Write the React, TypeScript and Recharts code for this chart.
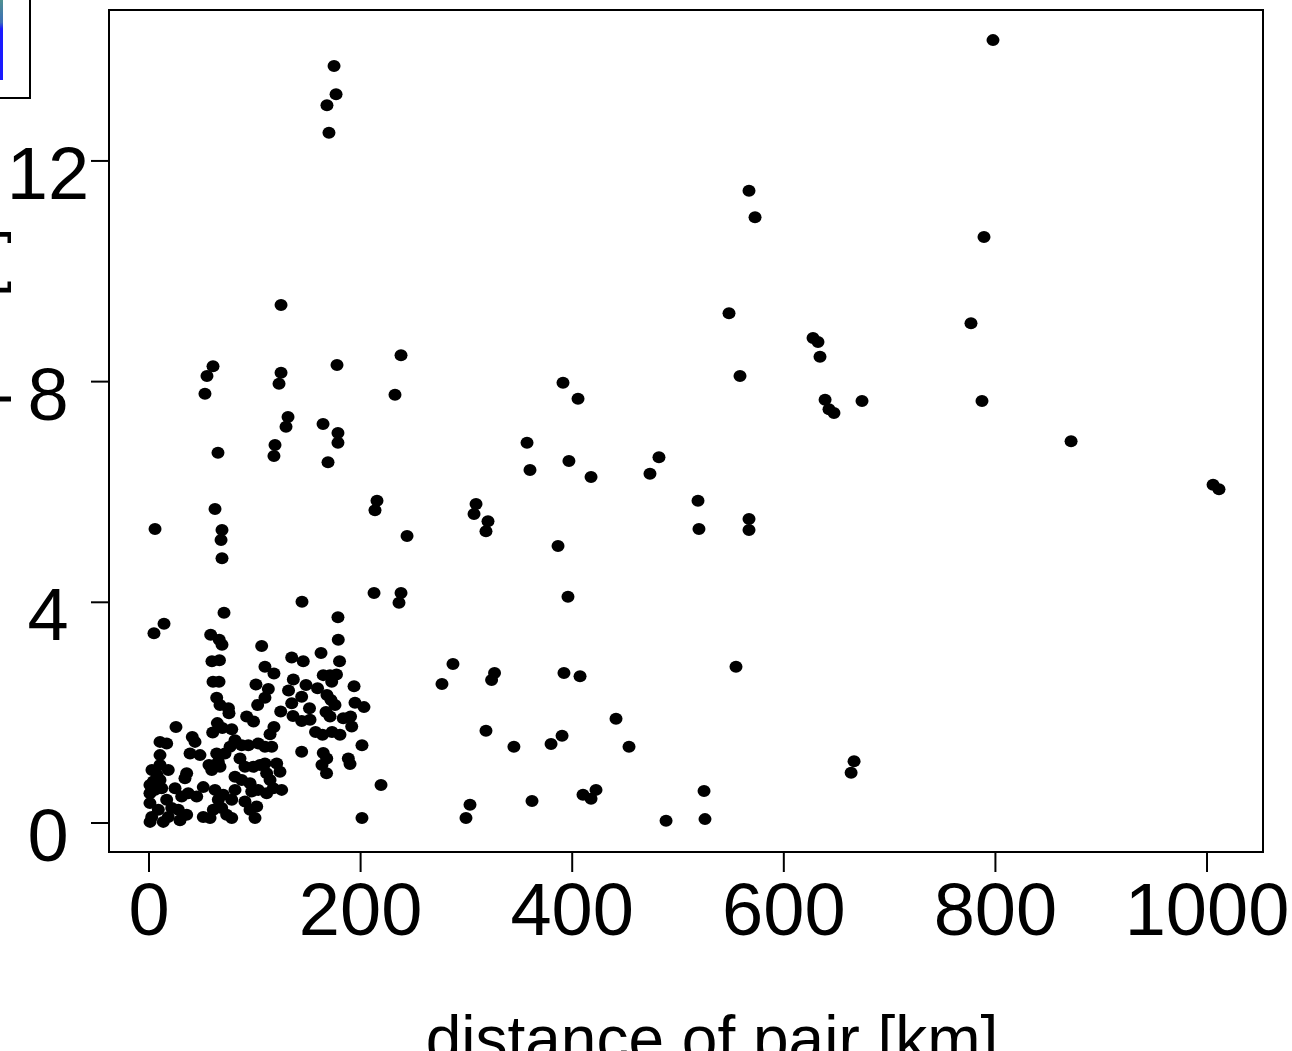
import {
  ReferenceArea,
  Scatter,
  ScatterChart,
  XAxis,
  YAxis,
} from "recharts";

const FONT = '"Liberation Sans", Arial, sans-serif';

// distance [km], value — sparse pairs (upper part and long distances)
const sparsePairs: [number, number][] = [
  [797.7, 14.19], [174.9, 13.72], [176.8, 13.21], [168.2, 13.01], [170.1, 12.51],
  [567.1, 11.46], [572.8, 10.98], [789.2, 10.62], [548.2, 9.24], [776.9, 9.06],
  [124.8, 9.39], [627.6, 8.79], [632.3, 8.72], [634.2, 8.45], [238.2, 8.48],
  [177.7, 8.3], [60.5, 8.28], [54.8, 8.1], [124.8, 8.16], [122.9, 7.96],
  [52.9, 7.78], [558.6, 8.1], [391.3, 7.98], [405.5, 7.69], [232.5, 7.76],
  [639.0, 7.67], [642.7, 7.5], [647.4, 7.43], [673.9, 7.65], [787.3, 7.65],
  [131.4, 7.36], [129.5, 7.18], [164.5, 7.23], [178.6, 7.07], [178.6, 6.89],
  [871.5, 6.92], [119.1, 6.85], [118.1, 6.65], [65.2, 6.71], [169.2, 6.54],
  [357.3, 6.89], [360.1, 6.4], [396.9, 6.56], [482.0, 6.63], [473.5, 6.33],
  [417.8, 6.27], [1005.7, 6.13], [1011.3, 6.05], [309.1, 5.78], [307.2, 5.6],
  [320.4, 5.47], [318.5, 5.29], [215.5, 5.84], [213.6, 5.67], [243.9, 5.2],
  [518.9, 5.84], [519.8, 5.33], [567.1, 5.51], [567.1, 5.31], [5.7, 5.33],
  [62.4, 5.69], [69.0, 5.31], [68.1, 5.13], [69.0, 4.8], [386.6, 5.02],
  [396.0, 4.1], [144.6, 4.01], [212.7, 4.17], [238.2, 4.17], [236.3, 3.99],
  [70.9, 3.81], [178.6, 3.73], [14.2, 3.61], [4.7, 3.44], [554.8, 2.83],
  [287.3, 2.88], [392.2, 2.72], [407.4, 2.66], [326.6, 2.72], [323.8, 2.59],
  [276.9, 2.52], [318.5, 1.67], [441.4, 1.89], [344.9, 1.38], [380.0, 1.43],
  [390.4, 1.58], [453.7, 1.38], [666.4, 1.12], [663.6, 0.91], [219.3, 0.69],
  [410.2, 0.51], [422.5, 0.6], [417.8, 0.44], [524.6, 0.58], [303.4, 0.33],
  [362.0, 0.4], [299.6, 0.09], [488.7, 0.04], [525.5, 0.07], [201.3, 0.09],
];

// pairs 50-200 km, values 1-3.5
const midCluster: [number, number][] = [
  [58.3, 3.41], [66.4, 3.32], [69.0, 3.23], [106.5, 3.21], [162.6, 3.08],
  [178.9, 3.32], [134.9, 3.0], [145.8, 2.93], [180.1, 2.93], [59.5, 2.93],
  [66.6, 2.95], [109.6, 2.83], [118.1, 2.71], [60.5, 2.56], [66.2, 2.56],
  [136.4, 2.6], [164.7, 2.68], [171.1, 2.68], [177.2, 2.69], [172.7, 2.56],
  [148.4, 2.5], [159.3, 2.44], [193.8, 2.48], [101.1, 2.51], [112.8, 2.43],
  [131.9, 2.4], [144.3, 2.29], [168.2, 2.32], [172.0, 2.23], [175.8, 2.14],
  [64.0, 2.27], [67.1, 2.14], [109.6, 2.27], [102.7, 2.14], [134.9, 2.17],
  [151.7, 2.08], [194.7, 2.18], [203.2, 2.1], [75.1, 2.08], [75.6, 1.99],
  [124.5, 2.02], [136.1, 1.94], [144.3, 1.85], [152.2, 1.87], [167.3, 2.01],
  [171.1, 1.93], [183.6, 1.9], [190.5, 1.93], [92.3, 1.93], [98.8, 1.84],
  [64.6, 1.81], [25.5, 1.74], [118.1, 1.74], [114.4, 1.61], [191.6, 1.75],
  [157.4, 1.65], [164.0, 1.6], [173.0, 1.65], [180.5, 1.6], [60.2, 1.64],
  [78.2, 1.7], [144.3, 1.29], [164.7, 1.27], [168.0, 1.17], [163.5, 1.05],
  [167.8, 0.9], [188.4, 1.17], [190.0, 1.07], [201.3, 1.41], [69.3, 1.72],
];

// short-distance pairs, values below 1.6
const nearCluster: [number, number][] = [
  [40.9, 1.56], [43.5, 1.47], [10.4, 1.47], [16.7, 1.44], [38.8, 1.26],
  [48.2, 1.23], [64.0, 1.26], [71.8, 1.26], [65.5, 1.11], [76.6, 1.38],
  [81.3, 1.5], [87.6, 1.41], [93.9, 1.41], [103.3, 1.44], [10.4, 1.23],
  [10.4, 1.05], [86.0, 1.17], [90.7, 1.02], [98.6, 1.02], [104.9, 1.05],
  [18.2, 0.96], [35.6, 0.9], [34.0, 0.81], [56.7, 1.05], [59.3, 0.96],
  [67.1, 1.02], [81.3, 0.84], [87.6, 0.78], [95.5, 0.72], [97.1, 0.57],
  [103.3, 0.6], [4.1, 0.75], [5.7, 0.6], [0.9, 0.54], [10.4, 0.78],
  [12.0, 0.63], [24.6, 0.63], [30.9, 0.48], [37.1, 0.54], [45.1, 0.48],
  [51.3, 0.65], [62.4, 0.6], [70.2, 0.51], [65.5, 0.42], [78.2, 0.42],
  [81.3, 0.6], [90.7, 0.39], [95.5, 0.24], [100.2, 0.09], [0.9, 0.36],
  [8.8, 0.24], [2.6, 0.11], [16.7, 0.42], [21.5, 0.27], [18.2, 0.11],
  [27.7, 0.24], [35.6, 0.15], [29.3, 0.05], [51.3, 0.11], [57.7, 0.09],
  [60.8, 0.24], [68.7, 0.27], [73.4, 0.15], [78.2, 0.09], [13.5, 0.02],
  [1.0, 0.02], [111.2, 0.54], [117.5, 0.63], [125.4, 0.6], [101.8, 0.3],
  [109.6, 1.08], [120.7, 1.08], [123.8, 0.93], [111.2, 0.9], [114.4, 0.78],
  [109.6, 1.38], [116.0, 1.38], [2.8, 0.96], [7.6, 0.87], [0.9, 0.69],
];

const xTicks = [0, 200, 400, 600, 800, 1000];
const yTicks = [0, 4, 8, 12];
const xDomain: [number, number] = [-37.8, 1052.9];
const yDomain: [number, number] = [-0.526, 14.736];

const points = [...sparsePairs, ...midCluster, ...nearCluster].map(([x, y]) => ({ x, y }));

const Dot = (props: any) => {
  const { cx, cy } = props;
  if (cx == null || cy == null) return null;
  return <ellipse cx={cx} cy={cy} rx={6.5} ry={6} fill="#000" />;
};

const XTick = (props: any) => {
  const { x, payload } = props;
  return (
    <text x={x} y={935} textAnchor="middle" fontSize={74} fontFamily={FONT} fill="#000">
      {payload.value}
    </text>
  );
};

const YTick = (props: any) => {
  const { y, payload } = props;
  return (
    <text x={48} y={y + 38} textAnchor="middle" fontSize={74} fontFamily={FONT} fill="#000">
      {payload.value}
    </text>
  );
};

export default function App() {
  return (
    <div
      style={{
        position: "absolute",
        left: 0,
        top: 0,
        width: 1292,
        height: 1051,
        overflow: "hidden",
        background: "#fff",
      }}
    >
      {/* cut-off colour key of the neighbouring panel */}
      <div
        style={{
          position: "absolute",
          left: -10,
          top: -10,
          width: 37,
          height: 105,
          border: "2px solid #000",
          boxSizing: "content-box",
        }}
      >
        <div
          style={{
            position: "absolute",
            left: 8,
            top: 8,
            width: 3,
            height: 80,
            background: "linear-gradient(#4f9090 0%, #3c6fb8 28%, #1a1aff 36%, #1a1aff 100%)",
          }}
        />
      </div>
      <ScatterChart width={1292} height={1051} margin={{ top: 10, right: 29, bottom: 0, left: 0 }}>
        <XAxis
          type="number"
          dataKey="x"
          domain={xDomain}
          ticks={xTicks}
          allowDataOverflow
          axisLine={false}
          tickSize={20}
          tickLine={{ stroke: "#000", strokeWidth: 2 }}
          tick={<XTick />}
          height={199}
          interval={0}
        />
        <YAxis
          type="number"
          dataKey="y"
          domain={yDomain}
          ticks={yTicks}
          allowDataOverflow
          axisLine={false}
          tickSize={18}
          tickLine={{ stroke: "#000", strokeWidth: 2 }}
          tick={<YTick />}
          width={109}
          interval={0}
        />
        <ReferenceArea
          x1={xDomain[0]}
          x2={xDomain[1]}
          y1={yDomain[0]}
          y2={yDomain[1]}
          fill="none"
          fillOpacity={0}
          stroke="#000"
          strokeWidth={2}
          ifOverflow="visible"
        />
        <Scatter data={points} shape={<Dot />} isAnimationActive={false} />
        <text x={712} y={1061} textAnchor="middle" fontSize={64} fontFamily={FONT} fill="#000">
          distance of pair [km]
        </text>
        <text
          x={-1}
          y={478}
          transform="rotate(-90, -1, 478)"
          textAnchor="middle"
          fontSize={56}
          fontFamily={FONT}
          fill="#000"
        >
          difference of pair [K]
        </text>
      </ScatterChart>
    </div>
  );
}
